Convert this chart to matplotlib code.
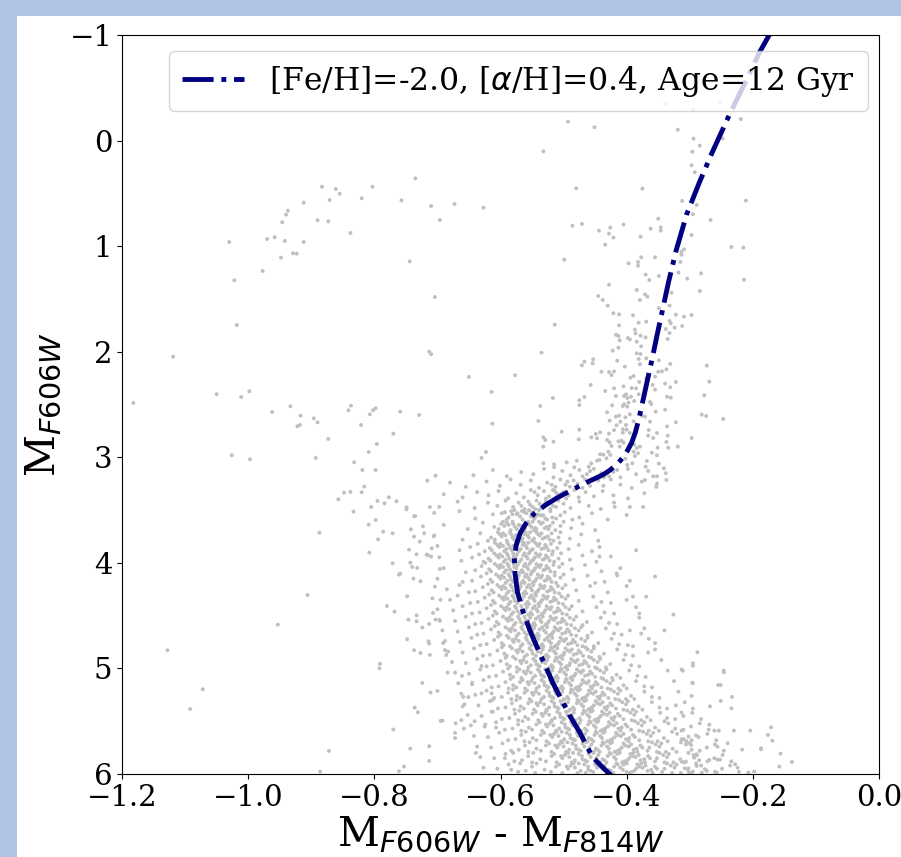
import numpy as np
import matplotlib
matplotlib.use("Agg")
import matplotlib.pyplot as plt
from matplotlib.patches import Rectangle

plt.rcParams['font.family'] = ['DejaVu Serif']
plt.rcParams['mathtext.fontset'] = 'dejavusans'

# ---------------- isochrone ([Fe/H]=-2.0, [a/H]=0.4, 12 Gyr) ----------------
iso_mag = [-1.00, -0.84, -0.55, -0.26, 0.12, 0.40, 0.70, 1.05, 1.35, 1.60, 1.82,
           2.05, 2.24, 2.43, 2.62, 2.76, 2.86, 2.94, 3.01, 3.07, 3.12, 3.16, 3.19,
           3.22, 3.26, 3.32, 3.38, 3.45, 3.53, 3.62, 3.72, 3.83, 3.95, 4.10, 4.28,
           4.45, 4.63, 4.80, 5.00, 5.15, 5.30, 5.45, 5.61, 5.75, 5.84, 5.92,
           6.00, 6.05]
iso_color = [-0.174, -0.189, -0.212, -0.236, -0.265, -0.285, -0.305, -0.322,
             -0.334, -0.343, -0.351, -0.359, -0.366, -0.373, -0.380, -0.386,
             -0.392, -0.399, -0.407, -0.416, -0.426, -0.436, -0.446,
             -0.457, -0.471, -0.490,
             -0.509, -0.528, -0.546, -0.559, -0.569, -0.575, -0.578, -0.577,
             -0.573, -0.565, -0.554, -0.542, -0.527, -0.516, -0.503, -0.490,
             -0.474, -0.462, -0.454, -0.441, -0.427, -0.419]
iso_label = r'[Fe/H]=-2.0, [$\alpha$/H]=0.4, Age=12 Gyr'

# ---------------- stars: (color, magnitude) ----------------
# horizontal branch + bright blue stars
hb_stars = [(-0.883,0.437),(-0.861,0.459),(-0.855,0.503),(-0.803,0.437),(-0.735,0.358),
            (-0.820,0.547),(-0.871,0.563),(-0.912,0.588),(-0.937,0.664),(-0.940,0.702),
            (-0.946,0.774),(-0.890,0.755),(-0.873,0.765),(-0.757,0.566),(-0.710,0.620),
            (-0.673,0.601),(-0.696,0.752),(-0.838,0.875),(-1.030,0.961),(-0.970,0.932),
            (-0.958,0.916),(-0.942,0.951),(-0.912,0.961),(-0.948,1.109),(-0.929,1.068),
            (-0.923,1.071),(-0.977,1.235),(-1.022,1.324),(-0.744,1.144),(-1.018,1.747),
            (-0.704,1.482),(-1.119,2.047),(-0.713,1.999),(-0.710,2.024),(-1.182,2.485),
            (-1.050,2.403),(-1.011,2.429),(-0.998,2.375),(-0.962,2.571),(-0.933,2.517),
            (-0.917,2.605),(-0.922,2.706),(-0.918,2.694),(-0.896,2.631),(-0.890,2.669),
            (-0.873,2.826),(-0.841,2.555),(-0.837,2.511),(-0.821,2.694),(-0.807,2.593),
            (-0.802,2.555),(-0.798,2.536),(-0.770,2.776),(-0.759,2.568),(-0.729,2.599),
            (-0.627,0.636),(-0.650,2.239),(-0.577,2.223),(-0.614,2.381),(-0.613,2.681),
            (-0.623,2.950),(-0.630,3.006)]

# blue stragglers / field stars left of the main sequence
blue_stars = [(-1.026,2.981),(-0.997,3.019),(-0.893,3.006),(-0.796,2.874),(-0.809,2.950),
              (-0.832,3.048),(-0.819,3.120),(-0.798,3.120),(-0.716,3.221),(-0.703,3.174),
              (-0.816,3.278),(-0.848,3.335),(-0.838,3.328),(-0.820,3.332),(-0.857,3.398),
              (-0.777,3.379),(-0.795,3.414),(-0.784,3.436),(-0.765,3.417),(-0.805,3.471),
              (-0.749,3.474),(-0.749,3.493),(-0.712,3.471),(-0.705,3.527),(-0.833,3.515),
              (-0.798,3.594),(-0.809,3.638),(-0.737,3.559),(-0.735,3.556),(-0.723,3.654),
              (-0.786,3.704),(-0.771,3.720),(-0.742,3.682),(-0.721,3.720),(-0.706,3.748),
              (-0.737,3.752),(-0.794,3.777),(-0.728,3.799),(-0.887,3.714),(-0.745,3.875),
              (-0.709,3.862),(-0.733,3.919),(-0.717,3.922),(-0.715,3.928),(-0.697,3.947),
              (-0.808,3.903),(-0.771,4.004),(-0.743,3.998),(-0.740,4.039),(-0.732,4.048),
              (-0.696,4.058),(-0.759,4.102),(-0.761,4.111),(-0.738,4.149),(-0.727,4.174),
              (-0.704,4.225),(-0.748,4.317),(-0.708,4.336),(-0.695,4.351),(-0.906,4.304),
              (-0.780,4.408),(-0.768,4.462),(-0.733,4.497),(-0.707,4.475),(-0.746,4.538),
              (-0.733,4.553),(-0.703,4.538),(-0.696,4.550),(-0.724,4.613),(-0.713,4.579),
              (-0.953,4.585),(-0.748,4.724),(-0.714,4.743),(-0.713,4.765),(-0.737,4.828),
              (-0.727,4.853),(-0.712,4.872),(-1.128,4.828),(-0.791,4.957),(-0.792,4.999),
              (-0.724,5.137),(-0.711,5.229),(-0.700,5.213),(-1.072,5.197),(-1.092,5.384),
              (-0.736,5.371),(-0.731,5.415),(-0.695,5.497),(-0.770,5.579),(-0.743,5.759),
              (-0.713,5.737),(-0.713,5.876),(-0.753,5.930),(-0.761,5.974),(-0.872,5.781),
              (-0.886,5.977),
              (-0.691,4.760),(-0.688,4.826),(-0.686,4.873),(-0.684,5.040),(-0.661,5.070),
              (-0.645,5.135),(-0.630,4.977),(-0.630,5.236),(-0.659,5.270),(-0.651,5.272),
              (-0.660,5.360),(-0.614,5.236),(-0.613,5.300),(-0.614,5.410),(-0.692,5.495),
              (-0.671,5.520),(-0.662,5.490),(-0.672,5.610),(-0.672,5.660),(-0.658,5.570),
              (-0.641,5.500),(-0.624,5.530),(-0.607,5.560),(-0.639,5.800),(-0.593,5.850),
              (-0.580,5.800),(-0.583,5.960),(-0.569,5.900)]

# red giant branch and bright field stars
rgb_stars = [(-0.532,0.102),(-0.514,1.744),(-0.535,2.009),(-0.517,2.438),(-0.537,2.514),
             (-0.540,2.656),(-0.532,2.811),(-0.529,2.836),(-0.532,2.899),(-0.516,2.852),
             (-0.338,-0.353),(-0.252,-0.369),(-0.295,-0.293),(-0.219,-0.204),(-0.493,-0.179),
             (-0.451,-0.126),(-0.319,-0.103),(-0.248,-0.021),(-0.294,-0.018),(-0.284,0.048),
             (-0.296,0.105),(-0.297,0.234),(-0.292,0.301),(-0.480,0.452),(-0.375,0.455),
             (-0.312,0.572),(-0.289,0.610),(-0.211,0.569),(-0.295,0.698),(-0.350,0.740),
             (-0.267,0.752),(-0.486,0.806),(-0.471,0.790),(-0.444,0.853),(-0.426,0.825),
             (-0.428,0.882),(-0.421,0.919),(-0.405,0.796),(-0.362,0.834),(-0.346,0.822),
             (-0.346,0.853),(-0.378,0.910),(-0.434,0.986),(-0.297,0.894),(-0.234,1.008),
             (-0.215,1.014),(-0.313,1.052),(-0.309,1.030),
             (-0.499,1.128),(-0.397,1.163),(-0.382,1.150),(-0.382,1.185),(-0.377,1.106),
             (-0.355,1.106),(-0.313,1.081),(-0.315,1.150),(-0.370,1.270),(-0.364,1.321),
             (-0.349,1.283),(-0.318,1.251),(-0.304,1.308),(-0.282,1.258),(-0.214,1.318),
             (-0.428,1.365),(-0.384,1.415),(-0.329,1.441),(-0.284,1.425),(-0.445,1.472),
             (-0.438,1.510),(-0.379,1.510),(-0.371,1.457),(-0.367,1.479),(-0.430,1.564),
             (-0.332,1.564),(-0.349,1.586),(-0.421,1.636),(-0.412,1.646),(-0.390,1.655),
             (-0.322,1.649),(-0.309,1.668),(-0.297,1.652),(-0.412,1.750),(-0.381,1.725),
             (-0.369,1.715),(-0.332,1.709),(-0.330,1.731),(-0.312,1.756),(-0.338,1.785),
             (-0.324,1.772),(-0.387,1.791),(-0.386,1.826),(-0.417,1.839),(-0.413,1.851),
             (-0.411,1.892),(-0.398,1.870),(-0.395,1.883),(-0.378,1.848),(-0.370,1.864),
             (-0.332,1.823),(-0.335,1.880),(-0.384,1.905),(-0.377,1.949),(-0.413,1.962),
             (-0.422,1.990),(-0.384,2.015),(-0.378,2.022),(-0.369,2.063),(-0.381,2.069),
             (-0.415,2.085),(-0.453,2.072),(-0.467,2.094),(-0.471,2.129),(-0.454,2.110),
             (-0.379,2.119),(-0.349,2.082),(-0.331,2.116),(-0.344,2.186),(-0.337,2.167),
             (-0.350,2.190),(-0.403,2.142),(-0.440,2.189),(-0.428,2.192),(-0.420,2.186),
             (-0.424,2.221),(-0.389,2.230),(-0.394,2.246),(-0.369,2.252),(-0.355,2.236),
             (-0.273,2.132),(-0.269,2.284),(-0.457,2.315),(-0.405,2.328),(-0.392,2.344),
             (-0.385,2.347),(-0.380,2.287),(-0.420,2.347),(-0.434,2.372),(-0.359,2.315),
             (-0.355,2.359),(-0.339,2.302),(-0.331,2.337),(-0.322,2.287),(-0.401,2.404),
             (-0.404,2.419),(-0.399,2.438),(-0.393,2.426),(-0.397,2.482),(-0.404,2.498),
             (-0.399,2.520),(-0.388,2.467),(-0.381,2.404),(-0.406,2.514),(-0.363,2.476),
             (-0.361,2.495),(-0.354,2.568),(-0.336,2.426),(-0.330,2.435),(-0.339,2.549),
             (-0.417,2.419),(-0.423,2.508),(-0.467,2.429),(-0.475,2.460),(-0.475,2.505),
             (-0.431,2.574),(-0.417,2.615),(-0.412,2.606),(-0.410,2.663),(-0.402,2.621),
             (-0.395,2.593),(-0.389,2.659),(-0.376,2.606),(-0.371,2.615),(-0.401,2.694),
             (-0.416,2.697),(-0.427,2.653),(-0.363,2.663),(-0.277,2.413),(-0.281,2.596),
             (-0.274,2.609),(-0.247,2.637),(-0.322,2.669),(-0.336,2.707),(-0.475,2.738),
             (-0.449,2.779),(-0.442,2.764),(-0.456,2.811),(-0.447,2.820),(-0.428,2.776),
             (-0.420,2.742),(-0.406,2.735),(-0.400,2.738),(-0.406,2.767),(-0.395,2.770),
             (-0.352,2.770),(-0.365,2.742),(-0.366,2.795),(-0.358,2.817),(-0.335,2.795),
             (-0.337,2.855),(-0.334,2.909),(-0.319,2.899),(-0.297,2.817),(-0.503,2.757),
             (-0.476,2.830),(-0.431,2.836),(-0.427,2.858),(-0.424,2.893),(-0.413,2.849),
             (-0.408,2.842),(-0.405,2.861),(-0.411,2.899),(-0.395,2.883),(-0.388,2.880),
             (-0.384,2.912),(-0.379,2.899),(-0.389,2.947),(-0.387,2.988),(-0.382,2.962),
             (-0.402,3.013),(-0.399,3.073),(-0.391,3.057),(-0.429,2.947),(-0.426,2.978),
             (-0.437,2.975),(-0.432,3.010),(-0.443,3.026),(-0.442,2.972),(-0.447,3.032),
             (-0.456,3.057),(-0.460,3.089),(-0.479,3.032),(-0.483,3.095),(-0.495,3.048),
             (-0.515,3.067),(-0.515,3.095),(-0.532,3.057),(-0.351,2.909),(-0.360,2.956),
             (-0.352,2.981),(-0.349,3.060),(-0.341,3.104),(-0.368,3.035),(-0.370,3.089)]

# red field stars / binaries right of the main sequence
red_stars = [(-0.371,3.215),(-0.358,3.180),(-0.353,3.280),(-0.337,3.215),(-0.374,3.470),
             (-0.400,3.547),(-0.419,3.470),(-0.443,3.850),(-0.443,3.940),(-0.385,3.880),
             (-0.355,4.130),(-0.416,4.100),(-0.450,4.190),(-0.400,4.350),(-0.369,4.320),
             (-0.380,4.480),(-0.326,4.490),(-0.395,4.640),(-0.377,4.670),(-0.355,4.760),
             (-0.340,4.640),(-0.390,4.790),(-0.366,4.850),(-0.313,5.010),(-0.295,5.140),
             (-0.288,4.847),(-0.295,4.951),(-0.295,4.974),(-0.311,5.021),(-0.246,5.021),
             (-0.246,5.037),(-0.296,5.135),(-0.255,5.157),(-0.251,5.157),(-0.297,5.261),
             (-0.233,5.270),(-0.251,5.308),(-0.268,5.359),(-0.234,5.378),(-0.313,5.419),
             (-0.269,5.533),(-0.171,5.558),(-0.261,5.589),(-0.254,5.589),(-0.230,5.589),
             (-0.204,5.589),(-0.313,5.589),(-0.290,5.634),(-0.176,5.630),(-0.302,5.646),
             (-0.313,5.671),(-0.306,5.687),(-0.305,5.694),(-0.300,5.709),(-0.298,5.725),
             (-0.240,5.709),(-0.169,5.684),(-0.256,5.741),(-0.217,5.769),(-0.187,5.757),
             (-0.187,5.766),(-0.289,5.813),(-0.289,5.823),(-0.156,5.807),(-0.293,5.845),
             (-0.269,5.867),(-0.256,5.864),(-0.252,5.864),(-0.313,5.883),(-0.306,5.883),
             (-0.138,5.886),(-0.228,5.908),(-0.224,5.940),(-0.158,5.930),(-0.289,5.924),
             (-0.302,5.946),(-0.308,5.946),(-0.276,5.955),(-0.295,5.977),(-0.281,5.987),
             (-0.257,5.987),(-0.207,5.987),(-0.198,5.977),(-0.301,5.987)]

# subgiant branch + main sequence: pairs of (-colour in mmag, magnitude in cmag)
ms_stars = [
 415,312, 428,318, 440,315, 452,311, 436,319, 421,314, 463,316, 447,318, 475,312, 489,317, 502,313, 516,319, 531,311, 548,316, 567,314, 590,318, 612,312, 643,317, 398,311, 385,316, 366,313, 352,318, 338,315, 410,319, 458,313, 470,318,
 445,322, 458,327, 466,321, 478,325, 490,328, 470,329, 484,322, 497,326, 505,321, 513,328, 526,324, 539,329, 552,322, 568,326, 584,321, 601,327, 622,323, 655,328, 680,324, 437,327, 425,321, 410,326, 392,329, 376,323, 352,325, 461,324, 494,323, 519,326,
 483,331, 492,336, 500,333, 509,338, 517,331, 505,335, 523,337, 531,332, 496,339, 511,334, 541,336, 552,331, 563,338, 575,334, 588,339, 603,332, 619,336, 637,333, 660,338, 690,335, 476,338, 465,333, 452,337, 438,332, 421,336, 398,339, 372,334, 528,339, 546,333, 514,332,
 508,341, 517,346, 526,343, 535,348, 543,341, 521,349, 531,345, 549,347, 556,342, 538,344, 512,347, 562,349, 571,343, 580,347, 592,341, 605,346, 620,343, 641,348, 668,342, 697,347, 500,344, 489,348, 475,342, 460,346, 441,349, 420,343, 395,347, 553,345, 528,342, 545,349, 567,346,
 521,351, 548,357, 573,353, 590,359, 537,355, 562,352, 529,358, 581,354, 555,350, 544,356, 598,353, 512,358, 566,351, 534,355, 587,357, 551,352, 526,359, 578,350, 541,354, 569,356, 593,352, 518,357, 559,353, 546,358, 583,351, 532,355, 565,359, 574,354, 539,350, 552,356, 612,354, 640,358, 498,352, 475,357, 455,353, 430,359, 665,351, 505,355, 486,359,
 517,362, 543,368, 571,364, 596,361, 530,367, 558,363, 584,369, 522,365, 549,361, 577,366, 603,368, 536,363, 563,369, 590,362, 527,366, 554,364, 581,361, 545,367, 568,365, 599,363, 513,369, 539,361, 574,368, 551,366, 587,364, 533,362, 561,367, 594,365, 524,368, 556,361, 580,363, 547,369, 610,366, 628,362, 652,368, 690,364, 500,361, 488,367, 470,363, 450,369, 505,365,
 519,372, 548,378, 576,374, 604,371, 533,377, 562,373, 590,379, 525,375, 553,371, 581,376, 609,378, 540,373, 567,379, 596,372, 529,376, 557,374, 585,371, 547,377, 572,375, 601,373, 516,379, 543,371, 578,378, 555,376, 592,374, 535,372, 565,377, 598,375, 522,378, 560,371, 583,373, 550,379, 569,372, 538,374, 615,376, 632,372, 660,378, 705,374, 505,371, 490,377, 472,373, 445,379, 508,376, 620,379,
 520,382, 551,388, 580,384, 609,381, 535,387, 565,383, 594,389, 527,385, 556,381, 585,386, 614,388, 542,383, 571,389, 600,382, 531,386, 560,384, 589,381, 549,387, 575,385, 605,383, 517,389, 545,381, 582,388, 558,386, 596,384, 538,382, 568,387, 602,385, 524,388, 563,381, 587,383, 553,389, 573,382, 540,384, 617,386, 529,383, 591,387, 636,382, 665,388, 700,384, 506,381, 492,387, 476,383, 455,389, 510,386, 625,389, 648,385,
 518,392, 550,398, 579,394, 610,391, 533,397, 564,393, 595,399, 525,395, 555,391, 586,396, 616,398, 541,393, 570,399, 601,392, 530,396, 559,394, 590,391, 548,397, 576,395, 606,393, 515,399, 544,391, 583,398, 557,396, 597,394, 537,392, 567,397, 603,395, 522,398, 562,391, 588,393, 552,399, 574,392, 539,394, 619,396, 528,393, 592,397, 546,395, 580,391, 634,392, 662,398, 710,394, 504,391, 490,397, 470,393, 448,399, 508,396, 627,399, 645,395, 425,394,
 516,402, 549,408, 578,404, 609,401, 532,407, 563,403, 594,409, 524,405, 554,401, 585,406, 615,408, 540,403, 569,409, 600,402, 529,406, 558,404, 589,401, 547,407, 575,405, 605,403, 514,409, 543,401, 582,408, 556,406, 596,404, 536,402, 566,407, 602,405, 521,408, 561,401, 587,403, 551,409, 573,402, 538,404, 618,406, 527,403, 591,407, 545,405, 579,401, 564,409, 630,403, 655,409, 690,405, 502,401, 487,406, 466,402, 440,408, 507,404, 624,400, 640,407, 410,405,
 514,412, 547,418, 576,414, 607,411, 530,417, 561,413, 592,419, 522,415, 552,411, 583,416, 613,418, 538,413, 567,419, 598,412, 527,416, 556,414, 587,411, 545,417, 573,415, 603,413, 512,419, 541,411, 580,418, 554,416, 594,414, 534,412, 564,417, 600,415, 519,418, 559,411, 585,413, 549,419, 571,412, 536,414, 616,416, 525,413, 589,417, 543,415, 577,411, 562,419, 631,413, 660,418, 700,415, 500,411, 484,416, 462,412, 435,418, 505,414, 622,410, 645,417, 415,412, 395,417,
 509,422, 543,428, 573,424, 605,421, 526,427, 558,423, 590,429, 517,425, 548,421, 580,426, 611,428, 534,423, 564,429, 596,422, 522,426, 552,424, 584,421, 541,427, 570,425, 601,423, 507,429, 537,421, 577,428, 550,426, 592,424, 530,422, 561,427, 598,425, 514,428, 555,421, 582,423, 545,429, 568,422, 532,424, 614,426, 520,423, 587,427, 539,425, 575,421, 559,429, 628,423, 650,428, 685,425, 497,421, 480,426, 458,422, 430,428, 502,424, 620,420, 640,427, 400,422, 665,421,
 503,432, 538,438, 569,434, 602,431, 521,437, 554,433, 587,439, 512,435, 544,431, 577,436, 609,438, 529,433, 560,439, 593,432, 517,436, 548,434, 581,431, 536,437, 566,435, 598,433, 501,439, 532,431, 573,438, 546,436, 589,434, 525,432, 557,437, 595,435, 508,438, 551,431, 579,433, 540,439, 563,432, 527,434, 612,436, 515,433, 584,437, 534,435, 571,431, 555,439, 625,433, 648,438, 680,435, 493,431, 476,436, 453,432, 425,438, 497,434, 618,430, 636,437, 390,432, 668,431, 440,437,
 497,442, 533,448, 565,444, 599,441, 515,447, 549,443, 583,449, 506,445, 539,441, 573,446, 606,448, 524,443, 556,449, 590,442, 511,446, 543,444, 577,441, 531,447, 561,445, 595,443, 495,449, 527,441, 569,448, 541,446, 586,444, 519,442, 552,447, 592,445, 502,448, 546,441, 575,443, 535,449, 558,442, 521,444, 609,446, 509,443, 580,447, 529,445, 567,441, 550,449, 622,443, 645,448, 675,445, 487,441, 470,446, 448,442, 420,448, 491,444, 615,440, 633,447, 385,442, 660,441, 435,447, 700,444,
 490,452, 527,458, 560,454, 596,451, 509,457, 544,453, 579,459, 499,455, 533,451, 568,456, 603,458, 518,453, 551,459, 586,452, 504,456, 537,454, 572,451, 525,457, 556,455, 591,453, 488,459, 521,451, 564,458, 535,456, 582,454, 512,452, 547,457, 588,455, 495,458, 540,451, 570,453, 529,459, 553,452, 515,454, 606,456, 502,453, 576,457, 523,455, 562,451, 545,459, 619,453, 640,458, 672,455, 480,451, 463,456, 441,452, 415,458, 484,454, 612,450, 630,457, 380,452, 655,451, 428,457, 697,454, 470,459,
 482,462, 520,468, 555,464, 592,461, 502,467, 538,463, 574,469, 491,465, 526,461, 562,466, 600,468, 511,463, 545,469, 582,462, 497,466, 531,464, 567,461, 518,467, 550,465, 587,463, 480,469, 514,461, 558,468, 528,466, 577,464, 505,462, 541,467, 584,465, 488,468, 534,461, 565,463, 523,469, 547,462, 508,464, 603,466, 494,463, 571,467, 516,465, 556,461, 539,469, 615,463, 637,468, 668,465, 472,461, 455,466, 433,462, 408,468, 476,464, 609,460, 627,467, 372,462, 650,461, 420,467, 692,464, 462,469, 590,469, 549,460,
 472,472, 511,478, 548,474, 587,471, 493,477, 530,473, 568,479, 482,475, 518,471, 555,476, 595,478, 502,473, 537,479, 576,472, 488,476, 523,474, 560,471, 509,477, 543,475, 581,473, 470,479, 505,471, 551,478, 520,476, 571,474, 496,472, 534,477, 579,475, 478,478, 526,471, 558,473, 514,479, 540,472, 499,474, 598,476, 485,473, 565,477, 507,475, 549,471, 532,479, 610,473, 632,478, 664,475, 462,471, 445,476, 424,472, 398,478, 466,474, 604,470, 622,477, 365,472, 646,471, 412,477, 688,474, 452,479, 585,479, 545,470,
 462,482, 503,488, 541,484, 582,481, 484,487, 522,483, 562,489, 473,485, 510,481, 549,486, 590,488, 493,483, 530,489, 570,482, 479,486, 515,484, 554,481, 500,487, 536,485, 575,483, 460,489, 497,481, 544,488, 512,486, 565,484, 487,482, 527,487, 573,485, 469,488, 518,481, 551,483, 506,489, 533,482, 490,484, 594,486, 476,483, 558,487, 499,485, 542,481, 524,489, 605,483, 628,488, 660,485, 452,481, 436,486, 415,482, 390,488, 456,484, 598,480, 617,487, 355,482, 642,481, 402,487, 683,484, 443,489, 580,489, 538,480, 465,480, 520,480,
 452,492, 495,498, 534,494, 576,491, 475,497, 514,493, 556,499, 464,495, 502,491, 543,496, 585,498, 484,493, 522,499, 564,492, 470,496, 507,494, 548,491, 491,497, 529,495, 569,493, 450,499, 488,491, 538,498, 504,496, 559,494, 478,492, 519,497, 567,495, 460,498, 511,491, 545,493, 497,499, 526,492, 481,494, 590,496, 467,493, 552,497, 490,495, 536,491, 517,499, 600,493, 622,498, 655,495, 442,491, 426,496, 405,492, 380,498, 446,494, 592,490, 612,497, 345,492, 637,491, 393,497, 677,494, 433,499, 574,499, 531,490, 456,490, 512,490, 540,497,
 442,502, 487,508, 527,504, 570,501, 466,507, 506,503, 549,509, 455,505, 494,501, 536,506, 580,508, 475,503, 514,509, 557,502, 461,506, 499,504, 541,501, 483,507, 521,505, 563,503, 440,509, 479,501, 531,508, 496,506, 552,504, 469,502, 511,507, 560,505, 450,508, 503,501, 538,503, 489,509, 518,502, 472,504, 585,506, 458,503, 545,507, 481,505, 529,501, 509,509, 596,503, 618,508, 650,505, 432,501, 416,506, 396,502, 370,508, 436,504, 588,500, 607,507, 335,502, 632,501, 383,507, 672,504, 423,509, 567,509, 524,500, 447,500, 504,500, 533,507, 574,503, 410,509,
 432,512, 479,518, 520,514, 565,511, 457,517, 498,513, 543,519, 446,515, 486,511, 530,516, 575,518, 467,513, 507,519, 551,512, 452,516, 491,514, 535,511, 475,517, 514,515, 557,513, 430,519, 470,511, 524,518, 488,516, 546,514, 460,512, 503,517, 555,515, 440,518, 495,511, 531,513, 481,519, 510,512, 463,514, 580,516, 449,513, 539,517, 472,515, 522,511, 501,519, 592,513, 614,518, 645,515, 422,511, 405,516, 385,512, 360,518, 426,514, 584,510, 603,517, 325,512, 627,511, 372,517, 667,514, 413,519, 561,519, 517,510, 437,510, 496,510, 527,517, 569,513, 400,519, 455,519, 587,519,
 420,522, 469,528, 512,524, 558,521, 446,527, 489,523, 535,529, 435,525, 477,521, 522,526, 569,528, 457,523, 499,529, 544,522, 441,526, 482,524, 527,521, 465,527, 505,525, 550,523, 418,529, 460,521, 516,528, 479,526, 539,524, 449,522, 494,527, 548,525, 429,528, 486,521, 523,523, 471,529, 502,522, 453,524, 574,526, 438,523, 531,527, 462,525, 514,521, 492,529, 588,523, 610,528, 640,525, 410,521, 393,526, 372,522, 348,528, 414,524, 580,520, 598,527, 318,522, 622,521, 360,527, 662,524, 401,529, 554,529, 509,520, 425,520, 488,520, 519,527, 562,523, 388,529, 443,529, 583,529, 474,520,
 407,532, 458,538, 503,534, 551,531, 435,537, 479,533, 527,539, 423,535, 467,531, 514,536, 563,538, 446,533, 490,539, 537,532, 430,536, 472,534, 519,531, 455,537, 496,535, 543,533, 405,539, 449,531, 508,538, 469,536, 531,534, 438,532, 485,537, 541,535, 417,538, 476,531, 515,533, 461,539, 493,532, 442,534, 568,536, 426,533, 523,537, 452,535, 505,531, 483,539, 582,533, 604,538, 635,535, 398,531, 381,536, 360,532, 336,538, 401,534, 575,530, 592,537, 308,532, 617,531, 348,537, 657,534, 390,539, 547,539, 500,530, 412,530, 478,530, 510,537, 556,533, 375,539, 432,539, 578,539, 464,530, 322,535, 295,538,
 394,542, 447,548, 494,544, 544,541, 424,547, 470,543, 519,549, 411,545, 457,541, 505,546, 556,548, 436,543, 481,549, 529,542, 419,546, 462,544, 510,541, 444,547, 487,545, 535,543, 392,549, 439,541, 499,548, 459,546, 523,544, 427,542, 475,547, 533,545, 405,548, 466,541, 506,543, 451,549, 484,542, 431,544, 561,546, 414,543, 514,547, 441,545, 496,541, 473,549, 577,543, 598,548, 630,545, 385,541, 368,546, 347,542, 323,548, 388,544, 570,540, 586,547, 296,542, 612,541, 336,547, 652,544, 377,549, 540,549, 491,540, 399,540, 468,540, 501,547, 549,543, 362,549, 421,549, 572,549, 454,540, 310,545, 282,548, 527,540,
 382,552, 437,558, 486,554, 538,551, 413,557, 461,553, 512,559, 399,555, 447,551, 497,556, 550,558, 425,553, 472,559, 522,552, 408,556, 452,554, 503,551, 434,557, 478,555, 528,553, 380,559, 428,551, 491,558, 449,556, 516,554, 416,552, 466,557, 526,555, 393,558, 457,551, 498,553, 441,559, 475,552, 420,554, 555,556, 402,553, 507,557, 430,555, 488,551, 463,559, 572,553, 593,558, 625,555, 372,551, 355,556, 334,552, 310,558, 376,554, 565,550, 581,557, 284,552, 607,551, 323,557, 647,554, 365,559, 534,559, 482,550, 387,550, 459,550, 493,557, 543,553, 349,559, 410,559, 567,559, 445,550, 298,555, 270,558, 519,550, 340,550,
 368,562, 426,568, 477,564, 531,561, 401,567, 451,563, 504,569, 387,565, 437,561, 489,566, 543,568, 414,563, 462,569, 515,562, 396,566, 442,564, 495,561, 423,567, 469,565, 521,563, 366,569, 417,561, 482,568, 439,566, 508,564, 405,562, 456,567, 518,565, 380,568, 447,561, 490,563, 431,569, 466,562, 409,564, 549,566, 390,563, 499,567, 419,565, 479,561, 453,569, 567,563, 588,568, 620,565, 358,561, 341,566, 320,562, 297,568, 362,564, 560,560, 576,567, 272,562, 602,561, 310,567, 642,564, 351,569, 527,569, 473,560, 374,560, 449,560, 485,567, 536,563, 335,569, 397,569, 562,569, 435,560, 286,565, 258,568, 511,560, 328,560, 460,566, 503,560,
 354,572, 414,578, 467,574, 523,571, 389,577, 440,573, 496,579, 375,575, 426,571, 480,576, 536,578, 402,573, 452,579, 507,572, 384,576, 431,574, 486,571, 411,577, 459,575, 513,573, 352,579, 405,571, 473,578, 428,576, 500,574, 393,572, 446,577, 510,575, 367,578, 436,571, 481,573, 419,579, 456,572, 397,574, 543,576, 378,573, 491,577, 408,575, 470,571, 443,579, 561,573, 583,578, 615,575, 345,571, 327,576, 306,572, 284,578, 348,574, 554,570, 571,577, 260,572, 597,571, 297,577, 637,574, 338,579, 519,579, 464,570, 360,570, 438,570, 476,577, 528,573, 321,579, 383,579, 556,579, 423,570, 273,575, 246,578, 502,570, 314,570, 449,576, 494,570, 364,575,
 342,582, 403,588, 457,584, 515,581, 378,587, 430,583, 487,589, 363,585, 415,581, 470,586, 528,588, 391,583, 442,589, 498,582, 372,586, 420,584, 476,581, 399,587, 448,585, 504,583, 340,589, 394,581, 463,588, 417,586, 491,584, 381,582, 435,587, 502,585, 355,588, 425,581, 471,583, 407,589, 445,582, 386,584, 537,586, 366,583, 482,587, 396,585, 460,581, 432,589, 556,583, 578,588, 610,585, 333,581, 315,586, 294,582, 272,588, 336,584, 548,580, 566,587, 248,582, 592,581, 285,587, 632,584, 326,589, 511,589, 453,580, 348,580, 427,580, 466,587, 519,583, 309,589, 371,589, 550,589, 411,580, 261,585, 234,588, 493,580, 302,580, 438,586, 485,580, 352,585, 389,580,
 330,592, 392,598, 447,594, 507,591, 367,597, 420,593, 478,599, 352,595, 405,591, 461,596, 520,598, 380,593, 432,599, 489,592, 361,596, 410,594, 467,591, 388,597, 438,595, 495,593, 328,599, 383,591, 453,598, 406,596, 482,594, 370,592, 425,597, 493,595, 344,598, 414,591, 461,593, 396,599, 435,592, 375,594, 530,596, 355,593, 473,597, 385,595, 450,591, 421,599, 550,593, 572,598, 605,595, 321,591, 303,596, 282,592, 260,598, 324,594, 543,590, 560,597, 236,592, 587,591, 273,597, 627,594, 314,599, 502,599, 443,590, 336,590, 416,590, 457,597, 512,593, 297,599, 359,599, 545,599, 400,590, 249,595, 222,598, 484,590, 290,590, 428,596, 476,590, 340,595, 377,590, 400,598, 465,599,
]

# ---------------- assemble ----------------
ms = np.array(ms_stars[:len(ms_stars) // 2 * 2], dtype=float).reshape(-1, 2)
ms_color = -ms[:, 0] / 1000.0
ms_mag = ms[:, 1] / 100.0
others = np.array(hb_stars + blue_stars + rgb_stars + red_stars)
star_color = np.concatenate([others[:, 0], ms_color])
star_mag = np.concatenate([others[:, 1], ms_mag])

# ---------------- figure ----------------
fig = plt.figure(figsize=(9.01, 8.57), dpi=100, facecolor='#b0c4e4')
bg = Rectangle((17 / 901, 0), 1, 1 - 16 / 857, transform=fig.transFigure,
               facecolor='white', edgecolor='none', zorder=-10)
fig.add_artist(bg)
ax = fig.add_axes([122 / 901, 1 - 774 / 857, (879 - 122) / 901, (774 - 35) / 857])
ax.set_zorder(5)

ax.scatter(star_color, star_mag, s=8, color='#c0c0c0', edgecolors='none', zorder=1)
ax.plot(iso_color, iso_mag, linestyle='-.', color='navy', lw=3.5, zorder=2, label=iso_label)

ax.set_xlim(-1.2, 0.0)
ax.set_ylim(6, -1)
ax.set_xticks([-1.2, -1.0, -0.8, -0.6, -0.4, -0.2, 0.0])
ax.set_yticks([-1, 0, 1, 2, 3, 4, 5, 6])
ax.tick_params(labelsize=21)
ax.set_xlabel(r'M$_{F606W}$ - M$_{F814W}$', fontsize=29.5, labelpad=2)
ax.set_ylabel(r'M$_{F606W}$', fontsize=29.5)
ax.legend(loc='upper right', fontsize=22.6, borderaxespad=0,
          bbox_to_anchor=(1 - 11 / 757, 1 - 16 / 739))

fig.savefig('out.png', dpi=100, facecolor=fig.get_facecolor())
